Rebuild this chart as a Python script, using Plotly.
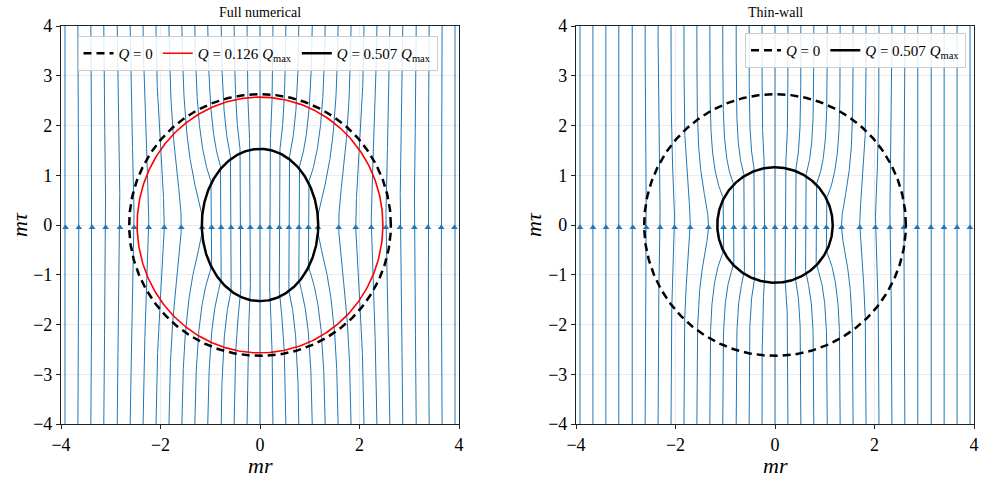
import numpy as np
import plotly.graph_objects as go

# ---------------- data ----------------
# streamline positions (m r) far from the bubble, at m tau = -4
seed_x = [-3.92, -3.66, -3.40, -3.14, -2.87, -2.61, -2.35, -2.09, -1.83, -1.57,
          -1.31, -1.05, -0.78, -0.52, -0.26, 0.00, 0.26, 0.52, 0.78, 1.05,
          1.31, 1.57, 1.83, 2.09, 2.35, 2.61, 2.87, 3.14, 3.40, 3.66, 3.92]

# bubble contours (semi-axis along m r, semi-axis along m tau)
q0_axes = (2.63, 2.63)          # Q = 0
q126_full_axes = (2.47, 2.57)   # Q = 0.126 Qmax (full numerical)
q507_full_axes = (1.17, 1.53)   # Q = 0.507 Qmax (full numerical)
q507_thin_axes = (1.16, 1.16)   # Q = 0.507 Qmax (thin-wall)

# flux concentration inside the bubble and decay of the distortion outside
full_concentration = 1.36
full_decay = 0.22
thin_concentration = 1.269
thin_decay = 0.45

ticks = [-4, -2, 0, 2, 4]
ytick_vals = [-4, -3, -2, -1, 0, 1, 2, 3, 4]

BLUE = "#1f77b4"
FONT = "Liberation Serif"


def stream_function(x, y, a, b, gamma, beta):
    s2 = (x / a) ** 2 + (y / b) ** 2
    s2c = np.maximum(s2, 1.0)
    g = np.exp(-beta * (s2c - 1.0)) / s2c
    return np.where(s2 <= 1.0, gamma * x, x * (1.0 + (gamma - 1.0) * g))


def streamlines(axes, gamma, beta):
    a, b = axes
    ys = np.linspace(-4, 4, 481)
    xg = np.linspace(0, 4.8, 2401)
    P = stream_function(xg[None, :], ys[:, None], a, b, gamma, beta)
    P = np.maximum.accumulate(P, axis=1)
    p0 = np.maximum.accumulate(stream_function(xg, -0.05, a, b, gamma, beta))
    X, Y, AX = [], [], []
    for x0 in seed_x:
        lev = float(stream_function(np.array(abs(x0)), np.array(-4.0), a, b, gamma, beta))
        xs = np.array([np.interp(lev, P[i], xg) for i in range(len(ys))])
        xs = np.sign(x0) * xs
        X += list(xs) + [None]
        Y += list(ys) + [None]
        AX.append(np.sign(x0) * np.interp(lev, p0, xg))
    return X, Y, AX


def ellipse(axes):
    t = np.linspace(0, 2 * np.pi, 361)
    return axes[0] * np.cos(t), axes[1] * np.sin(t)


fig = go.Figure()

panels = [
    ("x", "y", q507_full_axes, full_concentration, full_decay),
    ("x2", "y2", q507_thin_axes, thin_concentration, thin_decay),
]

for xa, ya, bub, gam, bet in panels:
    X, Y, AX = streamlines(bub, gam, bet)
    fig.add_trace(go.Scatter(x=X, y=Y, mode="lines", line=dict(color=BLUE, width=1),
                             xaxis=xa, yaxis=ya, showlegend=False, hoverinfo="skip"))
    fig.add_trace(go.Scatter(x=AX, y=[-0.05] * len(AX), mode="markers",
                             marker=dict(symbol="triangle-up", size=6, color=BLUE,
                                         line=dict(width=0)),
                             xaxis=xa, yaxis=ya, showlegend=False, hoverinfo="skip"))

# contours, left panel
cx, cy = ellipse(q0_axes)
fig.add_trace(go.Scatter(x=cx, y=cy, mode="lines", name="<i>Q</i> = 0",
                         line=dict(color="black", width=2.5, dash="8px,5px"),
                         xaxis="x", yaxis="y", legend="legend"))
cx, cy = ellipse(q126_full_axes)
fig.add_trace(go.Scatter(x=cx, y=cy, mode="lines", name="<i>Q</i> = 0.126 <i>Q</i><sub>max</sub>",
                         line=dict(color="red", width=1.6),
                         xaxis="x", yaxis="y", legend="legend"))
cx, cy = ellipse(q507_full_axes)
fig.add_trace(go.Scatter(x=cx, y=cy, mode="lines", name="<i>Q</i> = 0.507 <i>Q</i><sub>max</sub>",
                         line=dict(color="black", width=2.5),
                         xaxis="x", yaxis="y", legend="legend"))
# contours, right panel
cx, cy = ellipse(q0_axes)
fig.add_trace(go.Scatter(x=cx, y=cy, mode="lines", name="<i>Q</i> = 0",
                         line=dict(color="black", width=2.5, dash="8px,5px"),
                         xaxis="x2", yaxis="y2", legend="legend2"))
cx, cy = ellipse(q507_thin_axes)
fig.add_trace(go.Scatter(x=cx, y=cy, mode="lines", name="<i>Q</i> = 0.507 <i>Q</i><sub>max</sub>",
                         line=dict(color="black", width=2.5),
                         xaxis="x2", yaxis="y2", legend="legend2"))

W, H = 985, 479
ydom = [(H - 424) / H, (H - 26) / H]
axis_common = dict(range=[-4, 4], showgrid=True, gridcolor="#ececec", gridwidth=1,
                   zeroline=False, showline=True, linecolor="#222222", linewidth=1.2,
                   mirror=True, ticks="outside", ticklen=4, tickcolor="#222222",
                   automargin=False,
                   tickfont=dict(family=FONT, size=18, color="black"))


def label(text, px, py, size, angle=0):
    return dict(text=text, x=px / W, y=1 - py / H, xref="paper", yref="paper",
                xanchor="center", yanchor="middle", showarrow=False, textangle=angle,
                font=dict(family=FONT, size=size, color="black"))


fig.update_layout(
    template="none",
    width=W, height=H, margin=dict(l=0, r=0, t=0, b=0, autoexpand=False),
    paper_bgcolor="white", plot_bgcolor="white",
    xaxis=dict(domain=[61 / W, 459 / W], tickvals=ticks, anchor="y", **axis_common),
    yaxis=dict(domain=ydom, tickvals=ytick_vals, anchor="x", **axis_common),
    xaxis2=dict(domain=[576 / W, 974 / W], tickvals=ticks, anchor="y2", **axis_common),
    yaxis2=dict(domain=ydom, tickvals=ytick_vals, anchor="x2", **axis_common),
    legend=dict(x=257.5 / W, y=1 - 36 / H, xanchor="center", yanchor="top",
                orientation="h", bgcolor="rgba(255,255,255,0.85)",
                bordercolor="#cccccc", borderwidth=1,
                font=dict(family=FONT, size=15, color="black"),
                itemwidth=30, tracegroupgap=0),
    legend2=dict(x=966 / W, y=1 - 33 / H, xanchor="right", yanchor="top",
                 orientation="h", bgcolor="rgba(255,255,255,0.85)",
                 bordercolor="#cccccc", borderwidth=1,
                 font=dict(family=FONT, size=15, color="black"),
                 itemwidth=30, tracegroupgap=0),
    showlegend=True,
    annotations=[
        label("Full numerical", 260, 12, 14),
        label("Thin-wall", 775, 12, 14),
        label("<i>mr</i>", 260, 465, 22),
        label("<i>mr</i>", 775, 465, 22),
        label("<i>mτ</i>", 19, 225, 22, -90),
        label("<i>mτ</i>", 533, 225, 22, -90),
    ],
)

fig.write_html("out.html")
